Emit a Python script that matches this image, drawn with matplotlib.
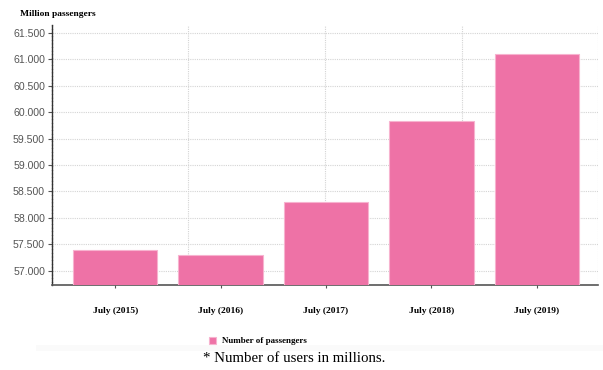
import matplotlib.pyplot as plt
from matplotlib.patches import Rectangle
from matplotlib.ticker import FixedLocator, FuncFormatter

# data
years = ['July (2015)', 'July (2016)', 'July (2017)', 'July (2018)', 'July (2019)']
passengers = [57.39, 57.30, 58.31, 59.84, 61.11]
yticks = [57.0, 57.5, 58.0, 58.5, 59.0, 59.5, 60.0, 60.5, 61.0, 61.5]

pink = '#ee72a6'
serif = ['Liberation Serif', 'DejaVu Serif']
sans = ['Liberation Sans', 'DejaVu Sans']

fig = plt.figure(figsize=(6.03, 3.70), dpi=100)
ax = fig.add_axes([0.0862, 0.2297, 0.9055, 0.7027])

x = list(range(len(years)))
ax.bar(x, passengers, width=0.8, color=pink, edgecolor='#f7b3cf', linewidth=0.8,
       zorder=3, label='Number of passengers')

ax.set_xlim(-0.6, 4.58)
ax.set_ylim(56.73, 61.65)

ax.set_xticks(x)
ax.set_xticklabels(years, fontfamily=serif, fontweight='bold', fontsize=6.8)
ax.tick_params(axis='x', length=2, pad=14, color='#555555', width=0.8)

ax.set_yticks(yticks)
ax.yaxis.set_major_formatter(FuncFormatter(lambda v, p: f'{v:.3f}'))
ax.tick_params(axis='y', length=3, pad=2, labelsize=7.6, labelcolor='#555555',
               color='#555555', width=0.8)
for lab in ax.get_yticklabels():
    lab.set_fontfamily(sans)

# grid: horizontal at the y ticks, vertical on an independent spacing
ax.xaxis.set_minor_locator(FixedLocator([0.69, 1.99, 3.29, 4.58]))
ax.tick_params(axis='x', which='minor', length=0)
ax.grid(axis='y', which='major', color='#d4d4d4', linestyle=(0, (1, 1)), linewidth=0.8, zorder=0)
ax.grid(axis='x', which='minor', color='#d4d4d4', linestyle=(0, (1, 1)), linewidth=0.8, zorder=0)

for s in ['top', 'right']:
    ax.spines[s].set_visible(False)
ax.spines['left'].set_color('#333333')
ax.spines['left'].set_linestyle((0, (2, 0.6)))
ax.spines['left'].set_linewidth(1.0)
ax.spines['bottom'].set_color('#555555')
ax.spines['bottom'].set_linewidth(1.2)

fig.text(0.033, 0.962, 'Million passengers', fontfamily=serif, fontweight='bold',
         fontsize=6.8, ha='left', va='center')

# very faint strip under the legend
fig.patches.append(Rectangle((0.06, 0.052), 0.94, 0.016, transform=fig.transFigure,
                             facecolor='#fafafa', edgecolor='none', zorder=0))

leg = fig.legend(loc='center left', bbox_to_anchor=(0.333, 0.078), frameon=False,
                 prop={'family': serif, 'weight': 'bold', 'size': 6.5},
                 handlelength=0.8, handleheight=0.8, handletextpad=0.6)

fig.text(0.336, 0.03, '* Number of users in millions.', fontfamily=serif,
         fontsize=10.7, ha='left', va='center')

fig.savefig('out.png', dpi=100)
